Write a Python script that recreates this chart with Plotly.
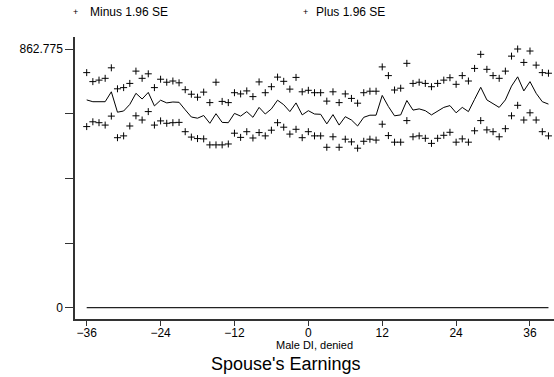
import plotly.graph_objects as go

# Months relative to the DI decision
months = list(range(-36, 40))

# Spouse's earnings: point estimate and 95% band (+/- 1.96 SE)
mean_earn = [693, 687, 687, 687, 720, 652, 656, 678, 715, 696,
             718, 673, 692, 683, 686, 685, 660, 636, 632, 641,
             615, 647, 618, 617, 648, 639, 654, 635, 668, 646,
             663, 692, 677, 654, 683, 643, 657, 646, 645, 613,
             644, 609, 637, 626, 606, 635, 642, 642, 708, 671,
             640, 643, 691, 659, 663, 657, 643, 657, 668, 674,
             650, 668, 654, 695, 735, 693, 679, 668, 693, 739,
             770, 723, 754, 715, 687, 679]

plus_se = [784, 754, 759, 765, 800, 730, 734, 748, 789, 765,
           780, 734, 762, 752, 756, 750, 727, 712, 702, 719,
           684, 752, 688, 684, 717, 713, 723, 704, 753, 717,
           737, 769, 755, 729, 768, 720, 725, 717, 717, 689,
           720, 684, 713, 698, 682, 717, 722, 722, 803, 774,
           726, 732, 815, 748, 752, 748, 737, 748, 759, 767,
           745, 774, 756, 798, 845, 795, 774, 765, 789, 839,
           862.775, 818, 856, 809, 784, 782]

minus_se = [604, 620, 617, 609, 639, 567, 573, 606, 640, 626,
            654, 609, 623, 615, 617, 618, 587, 569, 564, 563,
            543, 543, 543, 546, 582, 568, 587, 566, 584, 573,
            592, 617, 602, 579, 595, 567, 587, 573, 573, 535,
            570, 535, 562, 553, 532, 555, 562, 559, 612, 574,
            552, 552, 624, 570, 573, 565, 548, 565, 575, 585,
            552, 563, 552, 590, 624, 593, 587, 570, 597, 640,
            675, 626, 650, 626, 587, 573]

zero_line = [0] * len(months)

x_ticks = [-36, -24, -12, 0, 12, 24, 36]
y_max = 862.775
y_ticks = [0, y_max / 4, y_max / 2, 3 * y_max / 4, y_max]
y_tick_text = ["0", "", "", "", "862.775"]

FONT = "Liberation Sans, Arial, sans-serif"
AXIS_COLOR = "#333333"

plus_marker = dict(symbol="cross-thin", size=5, color="black",
                   line=dict(width=1, color="black"))

fig = go.Figure()
fig.add_trace(go.Scatter(x=months, y=zero_line, mode="lines",
                         line=dict(color="#222222", width=1.3),
                         showlegend=False, hoverinfo="skip"))
fig.add_trace(go.Scatter(x=months, y=mean_earn, mode="lines",
                         line=dict(color="black", width=1),
                         name="Spouse's Earnings", showlegend=False))
fig.add_trace(go.Scatter(x=months, y=minus_se, mode="markers",
                         marker=plus_marker, name="Minus 1.96 SE",
                         showlegend=False))
fig.add_trace(go.Scatter(x=months, y=plus_se, mode="markers",
                         marker=plus_marker, name="Plus 1.96 SE",
                         showlegend=False))

fig.update_xaxes(range=[-37.9, 39.9], tickvals=x_ticks,
                 ticks="outside", ticklen=5, tickwidth=1.2, tickcolor=AXIS_COLOR,
                 ticklabelstandoff=-3,
                 showline=True, linecolor=AXIS_COLOR, linewidth=1.5,
                 showgrid=False, zeroline=False,
                 tickfont=dict(family=FONT, size=12, color="black"))
fig.update_yaxes(range=[-37.7, 902.8], tickvals=y_ticks, ticktext=y_tick_text,
                 ticks="outside", ticklen=8, tickwidth=1.2, tickcolor=AXIS_COLOR,
                 showline=True, linecolor=AXIS_COLOR, linewidth=1.5,
                 showgrid=False, zeroline=False,
                 tickfont=dict(family=FONT, size=12, color="black"))

annotations = [
    # legend entries
    dict(text="+", x=0.002, y=1.088, xanchor="center", yanchor="middle",
         font=dict(family=FONT, size=9, color="black")),
    dict(text="Minus 1.96 SE", x=0.027, y=1.088, xanchor="left", yanchor="middle",
         font=dict(family=FONT, size=12, color="black")),
    dict(text="+", x=0.481, y=1.088, xanchor="center", yanchor="middle",
         font=dict(family=FONT, size=9, color="black")),
    dict(text="Plus 1.96 SE", x=0.499, y=1.088, xanchor="left", yanchor="middle",
         font=dict(family=FONT, size=12, color="black")),
    # axis title and chart title
    dict(text="Male DI, denied", x=0.5, y=-0.092, xanchor="center", yanchor="middle",
         font=dict(family=FONT, size=11, color="black")),
    dict(text="Spouse's Earnings", x=0.4405, y=-0.161, xanchor="center", yanchor="middle",
         font=dict(family=FONT, size=18, color="black")),
]
for a in annotations:
    a.update(xref="paper", yref="paper", showarrow=False)

fig.update_layout(width=554, height=377, autosize=False,
                  margin=dict(l=75, r=0, t=37, b=58),
                  paper_bgcolor="white", plot_bgcolor="white",
                  showlegend=False, annotations=annotations)

fig.write_html("out.html")
